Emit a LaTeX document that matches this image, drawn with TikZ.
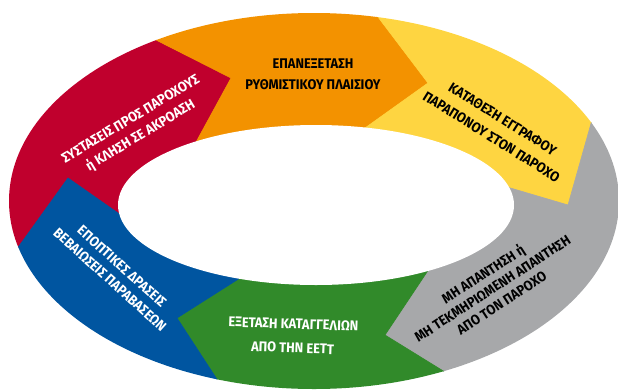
\documentclass[tikz,border=0pt]{standalone}
\usepackage{fontspec}
\setmainfont{Fira Sans}[FakeStretch=0.92]
\usetikzlibrary{calc}
\definecolor{ringred}{RGB}{192,0,45}
\definecolor{ringorange}{RGB}{243,146,0}
\definecolor{ringyellow}{RGB}{254,213,65}
\definecolor{ringgray}{RGB}{167,168,170}
\definecolor{ringgreen}{RGB}{49,138,42}
\definecolor{ringblue}{RGB}{0,85,160}
\tikzset{stage/.style={align=center, inner sep=0pt, font=\bfseries\fontsize{14}{21}\selectfont}}

\begin{document}
\begin{tikzpicture}[x=1pt, y=-1pt]
	\useasboundingbox (0,0) rectangle (618,389);
	\coordinate (c) at (316,205);
	\foreach \n/\tx/\ty/\ox/\oy/\ix/\iy in {1/68/178/14/253/118/213, 2/231/78/158/41/195/144, 3/428/83/378/17/365/128, 4/568/205/592/120/507/187, 5/385/335/453/377/427/272, 6/177/318/222/387/240/278} {
		\coordinate (t\n) at (\tx,\ty);
		\coordinate (o\n) at ($(t\n)!1.6!(\ox,\oy)$);
		\coordinate (i\n) at ($(t\n)!1.4!(\ix,\iy)$);
		\coordinate (f\n) at ($(c)!3!(o\n)$);
	}
	\begin{scope}
		\clip (314,201) ellipse [x radius=305pt, y radius=188pt];
		\foreach \a/\b/\col in {1/2/ringred, 2/3/ringorange, 3/4/ringyellow, 4/5/ringgray, 5/6/ringgreen, 6/1/ringblue}
		\filldraw[fill=\col, draw=\col, line width=0.6pt] (c) -- (i\a) -- (t\a) -- (o\a) -- (f\a) -- (f\b) -- (o\b) -- (t\b) -- (i\b) -- cycle;
	\end{scope}
	\fill[white] (316,205) ellipse [x radius=198pt, y radius=80pt];
	\node[stage, white, rotate=31, font=\bfseries\fontsize{14}{19}\selectfont] (advice) at (136,128) {ΣΥΣΤΑΣΕΙΣ ΠΡΟΣ ΠΑΡΟΧΟΥΣ\\ή ΚΛΗΣΗ ΣΕ ΑΚΡΟΑΣΗ};
	\node[stage] (review) at (313,74) {ΕΠΑΝΕΞΕΤΑΣΗ\\ΡΥΘΜΙΣΤΙΚΟΥ ΠΛΑΙΣΙΟΥ};
	\node[stage, rotate=-32] (complaint) at (497,128) {ΚΑΤΑΘΕΣΗ ΕΓΓΡΑΦΟΥ\\ΠΑΡΑΠΟΝΟΥ ΣΤΟΝ ΠΑΡΟΧΟ};
	\node[stage, rotate=33, font=\bfseries\fontsize{14}{17}\selectfont] (noreply) at (492,288) {ΜΗ ΑΠΑΝΤΗΣΗ ή\\ΜΗ ΤΕΚΜΗΡΙΩΜΕΝΗ ΑΠΑΝΤΗΣΗ\\ΑΠΟ ΤΟΝ ΠΑΡΟΧΟ};
	\node[stage, white, rotate=-2, font=\bfseries\fontsize{14}{24}\selectfont] (examine) at (293,336) {ΕΞΕΤΑΣΗ ΚΑΤΑΓΓΕΛΙΩΝ\\ΑΠΟ ΤΗΝ ΕΕΤΤ};
	\node[stage, white, rotate=-42, font=\bfseries\fontsize{14}{18}\selectfont] (inspect) at (116,273) {ΕΠΟΠΤΙΚΕΣ ΔΡΑΣΕΙΣ\\ΒΕΒΑΙΩΣΕΙΣ ΠΑΡΑΒΑΣΕΩΝ};
\end{tikzpicture}
\end{document}
